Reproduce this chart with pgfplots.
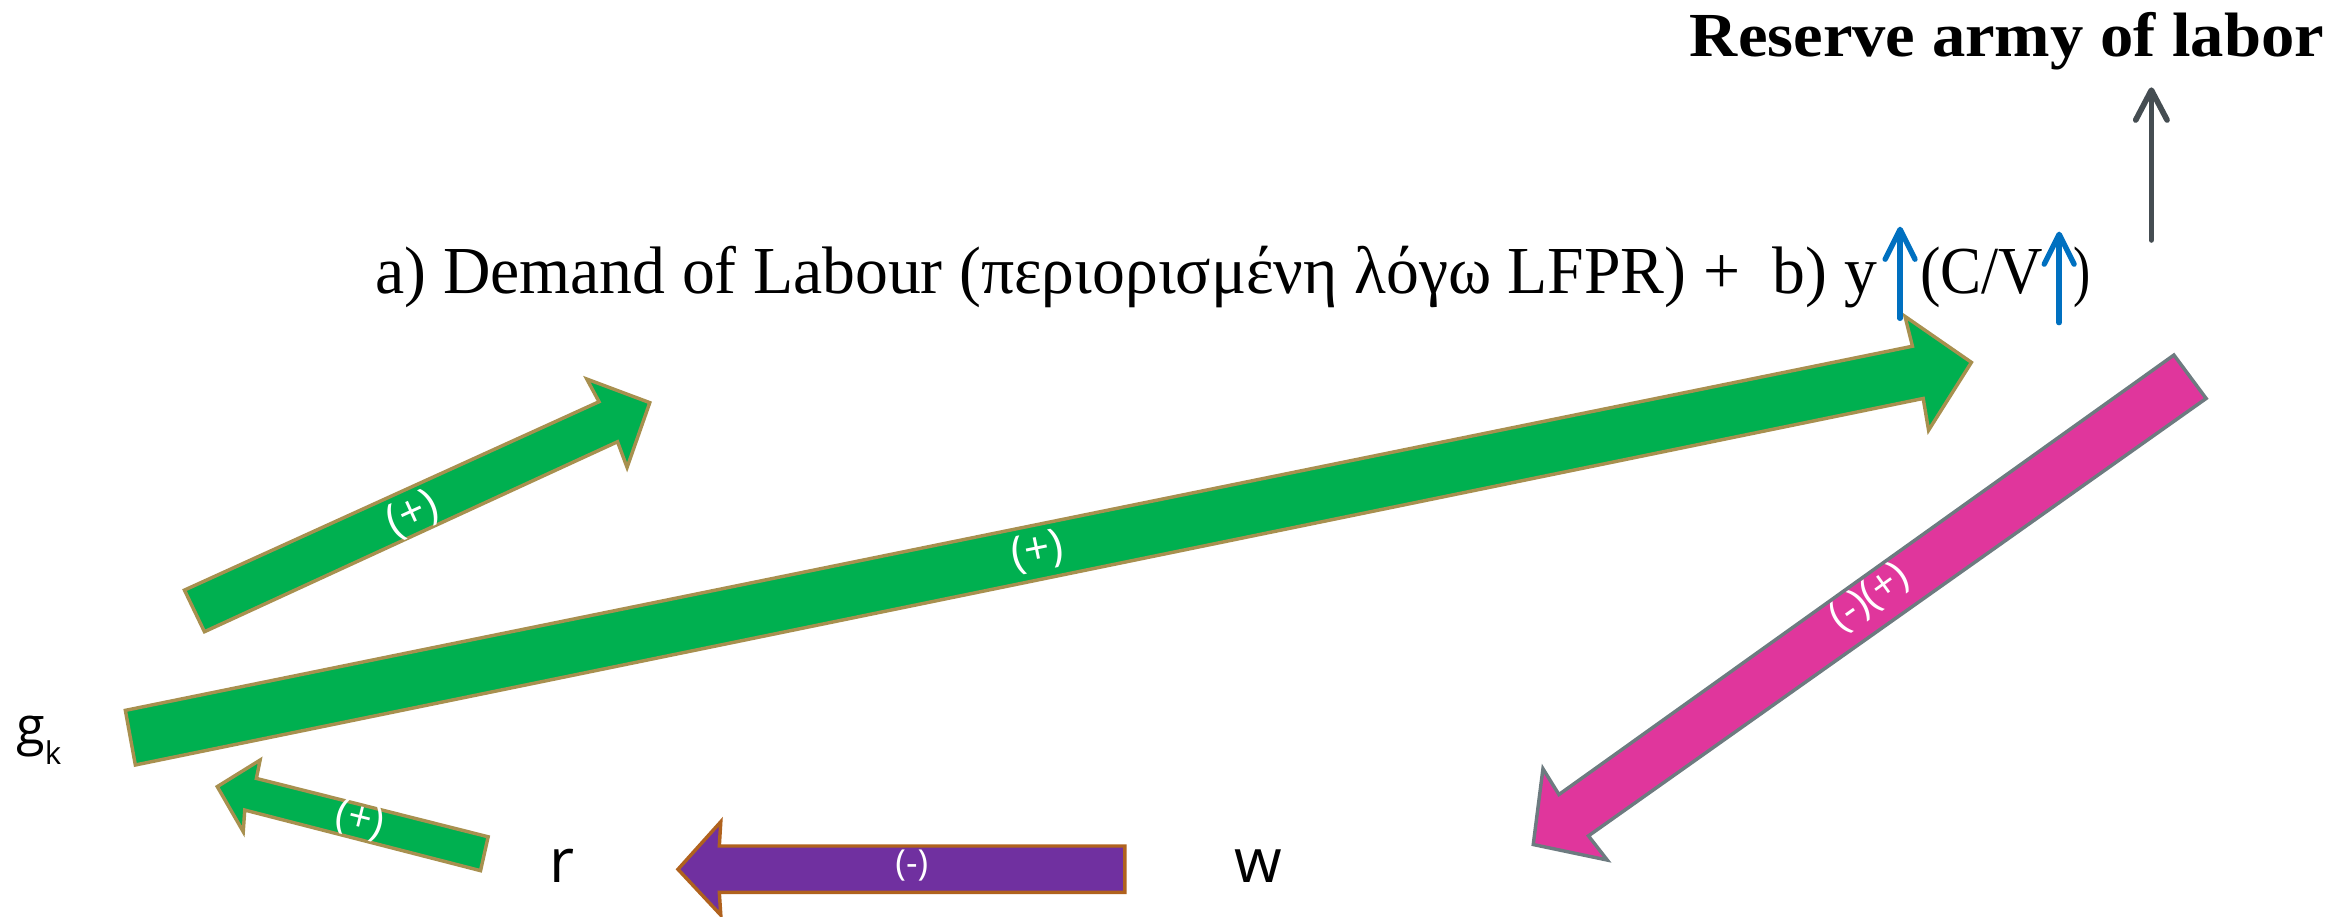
\documentclass[border=0pt]{standalone}
\usepackage{pgfplots}
\pgfplotsset{compat=1.18}
\usepackage{graphicx}
\usepackage{fontspec}
\setmainfont{Liberation Serif}
\newfontfamily\labfont{Open Sans}
\usetikzlibrary{arrows.meta}
\definecolor{gfill}{HTML}{00B050}
\definecolor{gedge}{HTML}{A8904F}
\definecolor{pfill}{HTML}{E0369C}
\definecolor{pedge}{HTML}{6D7B80}
\definecolor{vfill}{HTML}{7030A0}
\definecolor{vedge}{HTML}{B0621E}
\definecolor{blueA}{HTML}{0070C0}
\definecolor{grayA}{HTML}{454D52}
\begin{document}
\begin{tikzpicture}
\begin{axis}[name=ax, width=1568pt, height=614pt, scale only axis,
  xmin=0, xmax=1568, ymin=0, ymax=614, y dir=reverse, hide axis, clip=false]
% big green arrow g_k -> top
\addplot[fill=gfill, draw=gedge, line width=2.3pt, line join=miter] coordinates {
 (84,476) (1281.5,232) (1276.5,212) (1321,242.8) (1292.3,288.3) (1288.7,267) (90.7,512.6)} -- cycle;
% small green arrow upper left
\addplot[fill=gfill, draw=gedge, line width=2.3pt, line join=miter] coordinates {
 (123.6,395.4) (401.4,269.2) (393.2,254) (435.4,269.8) (420.2,313.2) (413.8,296) (137,423.3)} -- cycle;
% small green arrow r -> g_k
\addplot[fill=gfill, draw=gedge, line width=2.3pt, line join=miter] coordinates {
 (327.1,560.7) (171.8,521.6) (174.3,509.3) (145.6,527.1) (163,557.3) (164,542.8) (322,583.4)} -- cycle;
% purple arrow w -> r
\addplot[fill=vfill, draw=vedge, line width=2.3pt, line join=miter] coordinates {
 (753.7,566.9) (482,566.9) (483,550.6) (454.3,582.5) (483,613.2) (482,598) (753.7,598)} -- cycle;
% pink arrow
\addplot[fill=pfill, draw=pedge, line width=2.3pt, line join=miter] coordinates {
 (1456.7,237.9) (1478.3,267) (1064.4,560.1) (1077,576.3) (1027.4,565.9) (1033.9,515.1) (1044.6,532.4)} -- cycle;
% gray arrow
\addplot[grayA, line width=3.8pt, line cap=round,
  -{Straight Barb[length=20pt,width=21pt,line cap=round,line join=round]}] coordinates {(1441.6,160.8) (1441.6,58.5)};
% blue arrows
\addplot[blueA, line width=3.6pt, line cap=round,
  -{Straight Barb[length=20pt,width=20pt,line cap=round,line join=round]}] coordinates {(1273.2,213.3) (1273.2,151.9)};
\addplot[blueA, line width=3.6pt, line cap=round,
  -{Straight Barb[length=20pt,width=20pt,line cap=round,line join=round]}] coordinates {(1379.8,216.2) (1379.8,155.2)};
% texts
\node[anchor=base east, inner sep=0] at (axis cs:1557.6,38)
  {\fontsize{42}{50}\selectfont\bfseries\resizebox{425pt}{\height}{Reserve army of labor}};
\node[anchor=base west, inner sep=0] at (axis cs:251.5,196.5)
  {\fontsize{45}{54}\selectfont\resizebox{1006pt}{\height}{a) Demand of Labour (περιορισμένη λόγω LFPR) +\ \ b) y}};
\node[anchor=base west, inner sep=0] at (axis cs:1286.6,196.5)
  {\fontsize{45}{54}\selectfont\resizebox{82.4pt}{\height}{(C/V}};
\node[anchor=base west, inner sep=0] at (axis cs:1389,196.5)
  {\fontsize{45}{54}\selectfont\resizebox{11.5pt}{\height}{)}};
\node[anchor=base west, inner sep=0] at (axis cs:10.7,499)
  {\labfont\fontsize{35}{40}\selectfont g\raisebox{-13pt}{\fontsize{21}{24}\selectfont k}};
\node[anchor=base, inner sep=0] at (axis cs:376.9,591.5) {\labfont\fontsize{41}{48}\selectfont r};
\node[anchor=base, inner sep=0] at (axis cs:843,591.5) {\labfont\fontsize{41}{48}\selectfont w};
% signs
\node[white, rotate=24.6, inner sep=0] at (axis cs:276.8,345.1) {\labfont\fontsize{30}{36}\selectfont (+)};
\node[white, rotate=11.5, inner sep=0] at (axis cs:695,370) {\labfont\fontsize{30}{36}\selectfont (+)};
\node[white, rotate=-14, inner sep=0] at (axis cs:241,549.5) {\labfont\fontsize{28}{34}\selectfont (+)};
\node[white, inner sep=0] at (axis cs:611,580) {\labfont\fontsize{24}{30}\selectfont (-)};
\node[white, rotate=35.6, inner sep=0] at (axis cs:1252.8,400.9) {\labfont\fontsize{28}{34}\selectfont (-)(+)};
\end{axis}
\pgfresetboundingbox
\path (ax.south west) rectangle (ax.north east);
\end{tikzpicture}
\end{document}
